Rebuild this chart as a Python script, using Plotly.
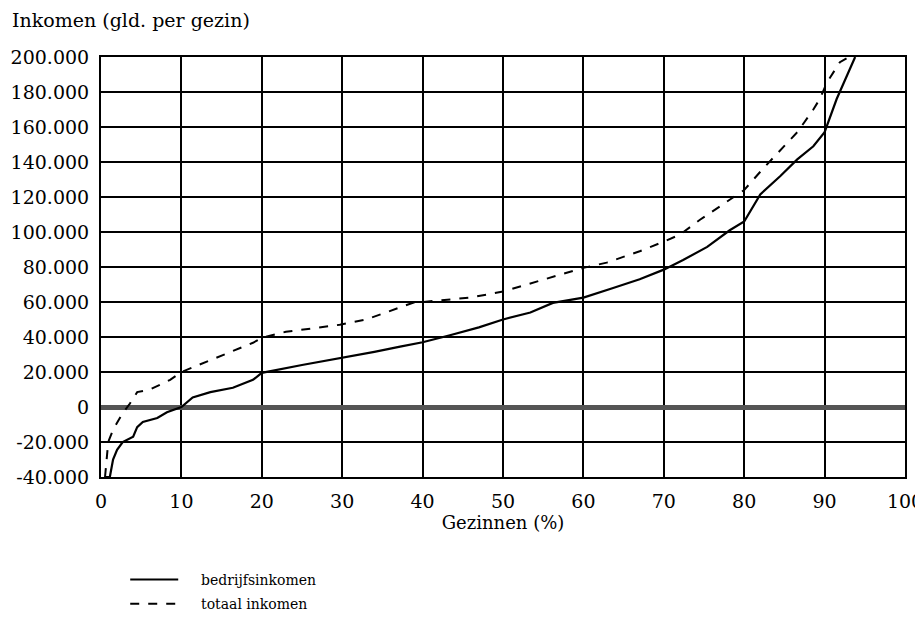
import plotly.graph_objects as go

# Bedrijfsinkomen (solid)
x_bedrijf = [0.5, 1.1, 1.5, 2.0, 2.7, 3.2, 4.0, 4.5, 5.2, 7.0, 8.2, 10, 11.4, 13.6, 16.4, 18.9, 20,
             25, 30, 34, 37.2, 40, 43.4, 47, 50, 53.4, 56.2, 60, 63.7, 67, 70, 72.4, 75.4, 78.2, 80,
             82, 84.5, 86.6, 88.6, 90, 91.5, 92.8, 93.8]
y_bedrijf = [-40000, -40000, -30000, -24500, -20000, -19000, -17000, -11500, -8500, -6300, -3000, 0,
             5500, 8500, 11000, 15500, 19500, 24000, 28000, 31500, 34500, 37000, 41000, 45500, 50000,
             54000, 59500, 62500, 68000, 73000, 78500, 84000, 91500, 101000, 106000, 121500, 132000,
             141500, 149000, 157000, 176000, 189000, 200000]

# Totaal inkomen (dashed)
x_totaal = [0.5, 0.9, 1.5, 2.7, 3.6, 4.5, 6.1, 8.6, 10, 12.7, 15.7, 18.9, 20, 23, 26.4, 29.7, 33,
            36.3, 38.8, 40, 45.9, 50, 55.8, 60, 62.9, 67, 70, 72, 74.5, 77, 80, 82.3, 84.5, 86.6,
            88.6, 89.4, 90.3, 91.9, 93]
y_totaal = [-40000, -20000, -13000, -3500, 2000, 8500, 10000, 15500, 20000, 25000, 31000, 36700,
            39500, 43000, 45000, 47000, 50000, 55600, 59600, 60000, 62500, 66000, 74000, 79500,
            82500, 89000, 94500, 98500, 107000, 114500, 124000, 136000, 147000, 157000, 170000,
            176000, 185500, 197000, 200000]

y_tickvals = [-40000, -20000, 0, 20000, 40000, 60000, 80000, 100000, 120000, 140000, 160000, 180000, 200000]
y_ticktext = ["-40.000", "-20.000", "0", "20.000", "40.000", "60.000", "80.000", "100.000",
              "120.000", "140.000", "160.000", "180.000", "200.000"]
x_tickvals = [0, 10, 20, 30, 40, 50, 60, 70, 80, 90, 100]

FONT = "DejaVu Serif"
NB = "\u00a0" * 4

fig = go.Figure()
fig.add_trace(go.Scatter(x=x_bedrijf, y=y_bedrijf, mode="lines", name=NB + "bedrijfsinkomen",
                         legendgroup="a", line=dict(color="black", width=2.2)))
fig.add_trace(go.Scatter(x=x_totaal, y=y_totaal, mode="lines", name=NB + "totaal inkomen",
                         legendgroup="b", line=dict(color="black", width=2, dash="dash")))

fig.update_layout(
    width=923, height=626,
    margin=dict(l=93, r=26, t=49, b=157, autoexpand=False),
    paper_bgcolor="white", plot_bgcolor="white",
    font=dict(family=FONT, size=18, color="black"),
    showlegend=True,
    legend=dict(xref="container", yref="container", x=0.127, y=0.112, xanchor="left", yanchor="top",
                font=dict(family=FONT, size=14, color="black"), itemwidth=48,
                tracegroupgap=3, bgcolor="rgba(0,0,0,0)"),
    annotations=[dict(text="Inkomen (gld. per gezin)", xref="paper", yref="paper", x=-0.1135, y=1.057,
                      xanchor="left", yanchor="bottom", showarrow=False,
                      font=dict(family=FONT, size=19, color="black"))],
)
fig.update_xaxes(range=[0, 100], tickvals=x_tickvals, ticks="", showgrid=True, gridcolor="black",
                 gridwidth=2, showline=True, linecolor="black", linewidth=2, mirror=True,
                 zeroline=False, ticklabelstandoff=6,
                 tickfont=dict(family=FONT, size=19),
                 title=dict(text="Gezinnen (%)", font=dict(family=FONT, size=18), standoff=6))
fig.update_yaxes(range=[-40000, 200000], tickvals=y_tickvals, ticktext=y_ticktext, ticks="",
                 showgrid=True, gridcolor="black", gridwidth=2, showline=True, linecolor="black",
                 linewidth=2, mirror=True, zeroline=True, zerolinecolor="#555", zerolinewidth=5,
                 ticklabelstandoff=6, tickfont=dict(family=FONT, size=19))

fig.write_html("out.html")
